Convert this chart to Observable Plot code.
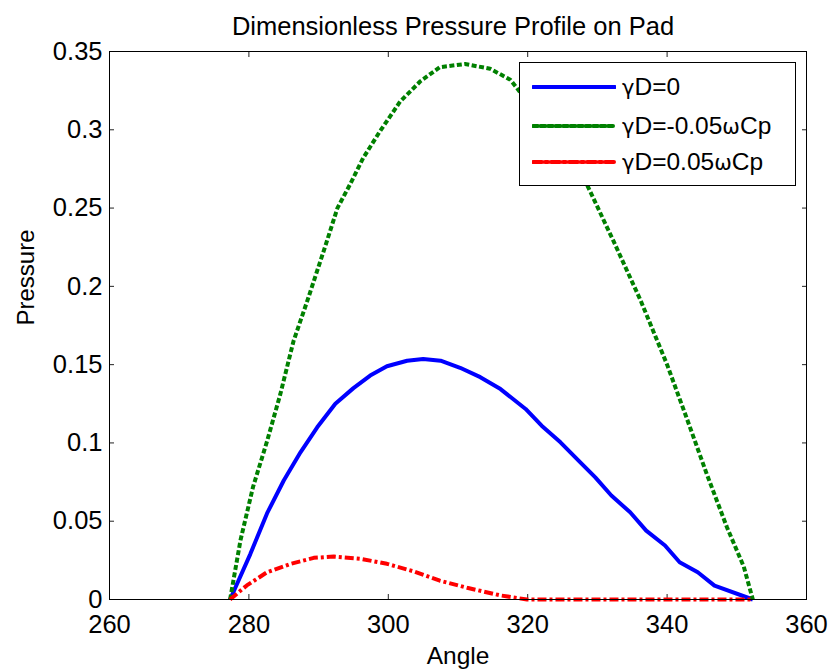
<!DOCTYPE html>
<html>
<head>
<meta charset="utf-8">
<script src="https://cdn.jsdelivr.net/npm/d3@7"></script>
<script src="https://cdn.jsdelivr.net/npm/@observablehq/plot@0.6"></script>
<style>
  html, body { margin: 0; padding: 0; background: #fff; }
  #wrap { position: relative; width: 828px; height: 671px; font-family: "Liberation Sans", Arial, Helvetica, sans-serif; }
  #legend { position: absolute; left: 519px; top: 62px; width: 277px; height: 124px; background: #fff; border: 1px solid #000; box-sizing: border-box; }
  #legend .row { position: absolute; left: 0; height: 30px; display: flex; align-items: center; }
  #legend .row span.name { font-size: 24.5px; color: #000; margin-left: 6px; white-space: nowrap; }
  #legend .sym { font-family: "DejaVu Sans", sans-serif; font-size: 21px; }
</style>
</head>
<body>
<div id="wrap"></div>
<script>
// Pressure on the pad for three values of γD
const seriesNames = ["γD=0", "γD=-0.05ωCp", "γD=0.05ωCp"];
const seriesColors = ["#0000ff", "#008000", "#ff0000"];
const seriesDash = [null, "5,2.5", "9,3,3,3"];

const angleZero = [277.3, 280.2, 282.6, 285.0, 287.4, 289.8, 292.4, 295.0, 297.4, 299.8, 302.7, 305.0,
  307.5, 310.3, 313.2, 316.1, 319.7, 322.0, 324.7, 327.3, 329.7, 332.0, 334.7, 337.0, 339.7, 341.8,
  344.4, 346.8, 352.3];
const pressureZero = [0, 0.029, 0.055, 0.076, 0.094, 0.110, 0.125, 0.135, 0.143, 0.149, 0.1525, 0.1536,
  0.1525, 0.148, 0.142, 0.1344, 0.1217, 0.111, 0.1004, 0.0887, 0.078, 0.0664, 0.0557, 0.044, 0.0345, 0.0238,
  0.0174, 0.0089, 0];

const angleNeg = [277.3, 278.8, 280.6, 282.6, 284.5, 286.4, 288.4, 291.2, 292.7, 294.5, 296.4, 298.8,
  301.7, 304.6, 307.4, 311.0, 314.6, 317.5, 318.4, 328.5, 332.3, 336.2, 340.0, 342.8, 345.7, 348.6, 351.0, 352.3];
const pressureNeg = [0, 0.038, 0.072, 0.101, 0.131, 0.165, 0.191, 0.229, 0.250, 0.265, 0.282, 0.299,
  0.318, 0.331, 0.340, 0.342, 0.339, 0.332, 0.327, 0.265, 0.229, 0.191, 0.150, 0.116, 0.080, 0.046, 0.021, 0];

const anglePos = [277.3, 279.7, 282.6, 286.0, 289.3, 292.2, 296.0, 299.8, 303.6, 307.4, 311.3, 316.1, 319.9, 352.3];
const pressurePos = [0, 0.009, 0.0174, 0.0228, 0.0266, 0.0274, 0.026, 0.0228, 0.018, 0.012, 0.0075, 0.0026, 0, 0];

const xTicks = [260, 280, 300, 320, 340, 360];
const yTicks = [0, 0.05, 0.1, 0.15, 0.2, 0.25, 0.3, 0.35];

const toRows = (a, p) => a.map((x, i) => ({angle: x, pressure: p[i]}));
const series = [toRows(angleZero, pressureZero), toRows(angleNeg, pressureNeg), toRows(anglePos, pressurePos)];

const font = "Liberation Sans, Arial, Helvetica, sans-serif";

const chart = Plot.plot({
  width: 828,
  height: 671,
  marginLeft: 109,
  marginRight: 22,
  marginTop: 51,
  marginBottom: 72,
  style: {fontFamily: font, background: "#fff", color: "#000"},
  x: {domain: [260, 360], ticks: xTicks},
  y: {domain: [0, 0.35], ticks: yTicks},
  marks: [
    // tick labels
    Plot.axisX(xTicks, {anchor: "bottom", tickSize: 0, tickPadding: 15, fontSize: 25.5, label: null, tickFormat: d => String(d)}),
    Plot.axisY(yTicks, {anchor: "left", tickSize: 0, tickPadding: 7, fontSize: 25.5, label: null, tickFormat: d => String(d)}),
    // inward ticks on all four sides
    Plot.axisX(xTicks, {anchor: "bottom", tickSize: 5, dy: -5, text: null, label: null, stroke: "#222"}),
    Plot.axisX(xTicks, {anchor: "top", tickSize: 5, dy: 5, text: null, label: null, stroke: "#222"}),
    Plot.axisY(yTicks, {anchor: "left", tickSize: 5, dx: 5, text: null, label: null, stroke: "#222"}),
    Plot.axisY(yTicks, {anchor: "right", tickSize: 5, dx: -5, text: null, label: null, stroke: "#222"}),
    ...series.map((rows, i) => Plot.line(rows, {
      x: "angle", y: "pressure",
      stroke: seriesColors[i], strokeWidth: 4,
      strokeDasharray: seriesDash[i] || undefined,
      strokeLinecap: "butt", strokeLinejoin: "round"
    })),
    Plot.frame({stroke: "#000", strokeWidth: 1}),
    Plot.text(["Dimensionless Pressure Profile on Pad"], {frameAnchor: "top", lineAnchor: "bottom", dy: -17, dx: -5, fontSize: 25.5, fill: "#000"}),
    Plot.text(["Angle"], {frameAnchor: "bottom", lineAnchor: "bottom", dy: 64, fontSize: 24.5, fill: "#000"}),
    Plot.text(["Pressure"], {frameAnchor: "left", rotate: -90, lineAnchor: "bottom", dx: -76, fontSize: 24, fill: "#000"})
  ]
});

const wrap = document.getElementById("wrap");
wrap.appendChild(chart);

// legend box: line sample plus label, with γ and ω set in a symbol-like face
const legend = document.createElement("div");
legend.id = "legend";
const rowTops = [9, 48, 84];
seriesNames.forEach((name, i) => {
  const row = document.createElement("div");
  row.className = "row";
  row.style.top = rowTops[i] + "px";
  row.style.left = "12px";
  const sw = d3.create("svg").attr("width", 84).attr("height", 30);
  sw.append("line").attr("x1", 1).attr("x2", 83).attr("y1", 15).attr("y2", 15)
    .attr("stroke", seriesColors[i]).attr("stroke-width", 4)
    .attr("stroke-linecap", "round")
    .attr("stroke-dasharray", seriesDash[i]);
  row.appendChild(sw.node());
  const label = document.createElement("span");
  label.className = "name";
  for (const ch of name) {
    if (ch === "γ" || ch === "ω") {
      const s = document.createElement("span");
      s.className = "sym";
      s.textContent = ch;
      label.appendChild(s);
    } else {
      label.appendChild(document.createTextNode(ch));
    }
  }
  row.appendChild(label);
  legend.appendChild(row);
});
wrap.appendChild(legend);
</script>
</body>
</html>
